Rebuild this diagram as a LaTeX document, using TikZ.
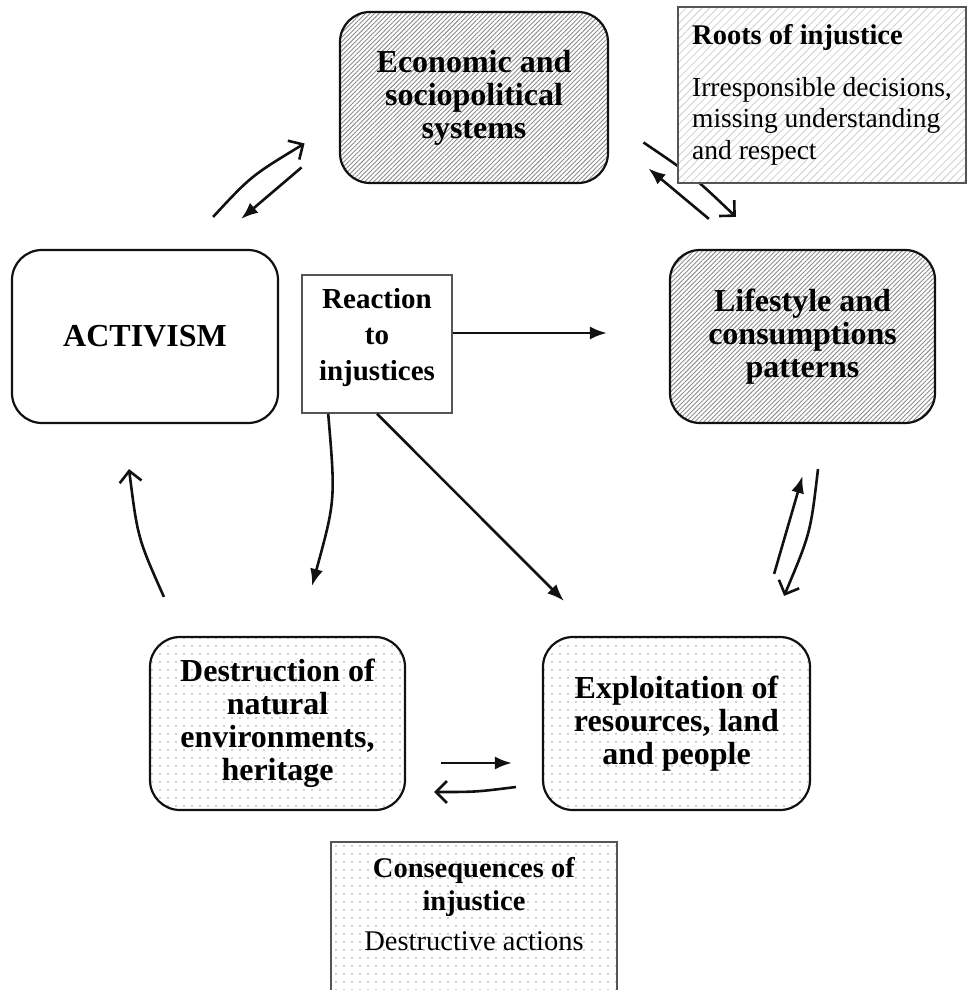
\documentclass[tikz,border=0pt]{standalone}
\usepackage{fontspec}
\setmainfont{Liberation Serif}
\usetikzlibrary{arrows.meta,patterns.meta,calc}
\definecolor{cycleInk}{HTML}{111111}
\definecolor{cycleFrame}{HTML}{555555}
\definecolor{cycleHatch}{HTML}{8C8C8C}
\definecolor{cycleLight}{HTML}{CFCFCF}
\definecolor{cycleDot}{HTML}{A0A0A0}

\begin{document}
\begin{tikzpicture}[
  x=1pt,
  y=-1pt,
  stage/.style={
    rounded corners=30pt,
    draw=cycleInk,
    line width=2.2pt,
    align=center,
    inner sep=0pt,
    font=\fontsize{32}{33}\selectfont\bfseries
  },
  rootstage/.style={stage, pattern={Lines[angle=45,distance=3.2pt,line width=.9pt]}, pattern color=cycleHatch},
  effectstage/.style={stage, pattern={Dots[distance=8pt,radius=.8pt]}, pattern color=cycleDot},
  legend/.style={
    draw=cycleFrame,
    line width=1.6pt,
    inner sep=0pt,
    align=center
  },
  flow/.style={-{Latex[length=17pt,width=13pt]}, draw=cycleInk, line width=2.6pt},
  backflow/.style={-{Straight Barb[length=11pt,width=22pt]}, draw=cycleInk, line width=2.6pt}
]

\useasboundingbox (0,0) rectangle (968,990);

\node[rootstage, minimum width=268pt, minimum height=171pt] (econ) at (474,97.5)
  {Economic and\\sociopolitical\\systems};
\node[rootstage, minimum width=265pt, minimum height=173pt] (life) at (802.5,336.5)
  {Lifestyle and\\consumptions\\patterns};
\node[stage, minimum width=266pt, minimum height=173pt] (activ) at (145,336.5) {ACTIVISM};
\node[legend, minimum width=150pt, minimum height=138pt, text depth=20pt,
  font=\fontsize{29}{36}\selectfont\bfseries] (react) at (377,344)
  {Reaction\\to\\injustices};

\node[effectstage, minimum width=255pt, minimum height=173pt] (destr) at (277.5,723.5)
  {Destruction of\\natural\\environments,\\heritage};
\node[effectstage, minimum width=267pt, minimum height=173pt] (explo) at (676.5,723.5)
  {Exploitation of\\resources, land\\and people};
\node[legend, pattern={Dots[distance=8pt,radius=.8pt]}, pattern color=cycleDot,
  minimum width=286pt, minimum height=158pt, text depth=35pt,
  font=\fontsize{28.5}{33}\selectfont] (cons) at (474,921)
  {\textbf{Consequences of}\\\textbf{injustice}\\[7pt]Destructive actions};

% cycle
\draw[backflow] ($(activ.north east)+(-66,-32)$) .. controls (251,176) .. ($(econ.south west)+(-35,-40)$);
\draw[flow] ($(econ.south west)+(-38,-16)$) -- ($(activ.north east)+(-38,-30)$);
\draw[backflow] ($(econ.south east)+(35,-41)$) .. controls (693,176) .. ($(life.north west)+(67,-32)$);
\draw[flow] ($(life.north west)+(40,-30)$) -- ($(econ.south east)+(40,-15)$);
\draw[backflow] ($(life.south)+(15.5,45)$) .. controls (810.5,533) .. ($(explo.north east)+(-27,-40)$);
\draw[flow] ($(explo.north east)+(-37,-62)$) -- ($(life.south)+(0,52)$);
\draw[flow] ($(destr.east)+(35,39.5)$) -- ($(explo.west)+(-30,39.5)$);
\draw[backflow] ($(explo.west)+(-26,63.5)$) .. controls (476,792) .. ($(destr.east)+(28,68.5)$);
\draw[backflow] ($(destr.north west)+(15,-39)$) .. controls (137.7,538) .. ($(activ.south)+(-16,45)$);

% reactions
\draw[flow] ($(react.east)+(0,-11)$) -- ($(life.west)+(-62,-3.5)$);
\draw[flow] ($(react.south west)+(27,0)$) .. controls (335.5,500) .. ($(destr.north)+(34.5,-50)$);
\draw[flow] (react.south) -- ($(explo.north west)+(22,-35)$);

\node[legend, align=left, preaction={fill=white},
  pattern={Lines[angle=45,distance=5.5pt,line width=.8pt]}, pattern color=cycleLight,
  minimum width=288pt, minimum height=176pt,
  font=\fontsize{27.5}{31.7}\selectfont] (roots) at (822,95)
  {{\fontsize{28.5}{31.7}\selectfont\bfseries Roots of injustice}\\[20pt]Irresponsible decisions,\\missing understanding\\and respect};
\end{tikzpicture}
\end{document}
